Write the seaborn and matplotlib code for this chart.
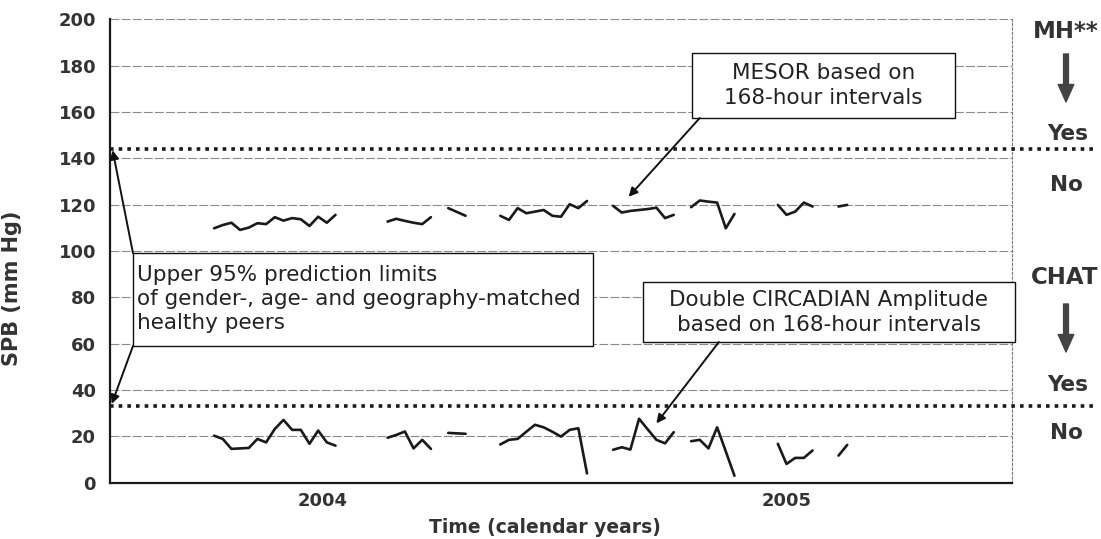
import numpy as np
import pandas as pd
import matplotlib
matplotlib.use("Agg")
import matplotlib.pyplot as plt
import matplotlib.patches as mpatches
import seaborn as sns

# ---------------- data (weeks since start of 2004) ----------------
seg_weeks = [
    list(range(12, 27)),
    list(range(32, 38)),
    [39, 41],
    list(range(45, 56)),
    list(range(58, 66)),
    list(range(67, 73)),
    list(range(77, 82)),
    [84, 85],
]
mesor_values = [
    [109.8, 111.2, 112.2, 109.1, 110.1, 112.0, 111.6, 114.6, 113.1, 114.2, 113.7, 110.8, 114.8, 112.2, 115.6],
    [112.7, 113.9, 113.0, 112.2, 111.6, 114.6],
    [118.5, 115.2],
    [115.2, 113.4, 118.5, 116.3, 117.0, 117.7, 115.2, 114.8, 120.2, 118.5, 121.6],
    [119.5, 116.6, 117.3, 117.7, 118.1, 118.7, 114.2, 115.6],
    [118.9, 121.8, 121.3, 120.9, 109.8, 116.0],
    [119.9, 115.6, 117.0, 120.9, 119.2],
    [119.2, 119.9],
]
chat_values = [
    [20.3, 18.9, 14.6, 14.8, 15.0, 18.9, 17.4, 23.2, 27.1, 22.8, 22.8, 16.8, 22.5, 17.4, 16.0],
    [19.4, 20.6, 22.1, 14.8, 18.5, 14.6],
    [21.5, 21.1],
    [16.5, 18.5, 18.9, 22.0, 25.0, 23.9, 22.0, 19.9, 22.8, 23.5, 4.0],
    [14.2, 15.3, 14.3, 27.6, 23.0, 18.5, 17.0, 21.8],
    [17.9, 18.5, 14.8, 23.9, 13.5, 3.0],
    [16.8, 8.1, 10.7, 10.7, 13.9],
    [11.7, 16.3],
]
mesor_limit = 144
chat_limit = 33
year_ticks = [0, 52, 104]
year_label_pos = [24.5, 78]
year_labels = ["2004", "2005"]
y_ticks = list(range(0, 201, 20))

rows = []
for i, (w, m, c) in enumerate(zip(seg_weeks, mesor_values, chat_values)):
    for wk, mv, cv in zip(w, m, c):
        rows.append({"week": wk, "value": mv, "series": "MESOR", "seg": i})
        rows.append({"week": wk, "value": cv, "series": "CHAT", "seg": i})
df = pd.DataFrame(rows)

# ---------------- figure ----------------
sns.set_theme(style="white")
plt.rcParams["font.family"] = ["DejaVu Sans"]

W, H = 1101, 539
fig = plt.figure(figsize=(W / 100, H / 100), dpi=100)
ax = fig.add_axes([110 / W, 1 - 482.7 / H, 902 / W, (482.7 - 19.3) / H])

def fp(x, y):
    return (x / W, 1 - y / H)

for s in ["MESOR", "CHAT"]:
    sns.lineplot(data=df[df["series"] == s], x="week", y="value", units="seg",
                 estimator=None, color="#1a1a1a", lw=1.9, ax=ax, legend=False, zorder=3)

ax.set_xlim(0, 104)
ax.set_ylim(0, 200)
ax.set_yticks(y_ticks)
ax.set_yticklabels([str(v) for v in y_ticks], fontsize=13, fontweight="bold", color="#333333")
ax.set_xticks(year_ticks)
ax.set_xticklabels(["", "", ""])
ax.set_xticks(year_label_pos, minor=True)
ax.set_xticklabels(year_labels, minor=True, fontsize=13, fontweight="bold", color="#333333")
ax.tick_params(axis="x", which="minor", length=0, pad=7)
ax.tick_params(axis="x", which="major", length=5, width=1.2, direction="out", color="k")
ax.tick_params(axis="y", length=4, width=1, direction="out", color="k", pad=6)

ax.yaxis.grid(True, color="#8a8a8a", lw=0.8, linestyle=(0, (8, 2)))
ax.set_axisbelow(True)
for side in ["left", "bottom"]:
    ax.spines[side].set_color("k")
    ax.spines[side].set_linewidth(1.6)
ax.spines["top"].set_visible(False)
ax.spines["right"].set_color("#777777")
ax.spines["right"].set_linewidth(0.8)
ax.spines["right"].set_linestyle((0, (2, 2)))

ax.set_xlabel("Time (calendar years)", fontsize=13.5, fontweight="bold", color="#333333")
ax.set_ylabel("SPB (mm Hg)", fontsize=15, fontweight="bold", color="#333333")
ax.yaxis.set_label_coords(-0.098, 0.42)
ax.xaxis.set_label_coords(0.482, -0.076)

# threshold dotted lines (extend beyond the axes)
for lim in [mesor_limit, chat_limit]:
    ax.plot([0, 113.8], [lim, lim], color="k", lw=2.6, linestyle=(0, (1, 1.4)),
            clip_on=False, zorder=4, solid_capstyle="butt", dash_capstyle="butt")

# ---------------- annotation boxes ----------------
def box(x0, x1, y0, y1):
    r = mpatches.Rectangle((x0, y0), x1 - x0, y1 - y0, facecolor="white", edgecolor="#111111",
                           lw=1.0, zorder=5, clip_on=False)
    ax.add_patch(r)

arrow_kw = dict(arrowstyle="-|>", color="#111111", lw=1.4, mutation_scale=13, shrinkA=0, shrinkB=0)

# MESOR box
box(67.1, 97.4, 157.4, 185.5)
ax.text(82.25, 171.4, "MESOR based on\n168-hour intervals", ha="center", va="center",
        fontsize=15.5, color="#222222", zorder=6, linespacing=1.3)
ax.annotate("", xy=(59.8, 123.4), xytext=(68.0, 157.4), arrowprops=arrow_kw, zorder=6)

# Upper 95% box
box(2.65, 55.7, 59.0, 99.1)
ax.text(3.1, 79.3, "Upper 95% prediction limits\nof gender-, age- and geography-matched\nhealthy peers",
        ha="left", va="center", fontsize=15.5, color="#222222", zorder=6, linespacing=1.25)
ax.annotate("", xy=(0.3, 143.5), xytext=(2.65, 99.1), arrowprops=arrow_kw, zorder=6, annotation_clip=False)
ax.annotate("", xy=(0.2, 34.0), xytext=(2.65, 59.0), arrowprops=arrow_kw, zorder=6, annotation_clip=False)

# Double CIRCADIAN box
box(61.5, 104.3, 60.7, 86.6)
ax.text(82.9, 73.5, "Double CIRCADIAN Amplitude\nbased on 168-hour intervals", ha="center", va="center",
        fontsize=15.5, color="#222222", zorder=6, linespacing=1.3)
ax.annotate("", xy=(63.0, 25.6), xytext=(70.2, 60.7), arrowprops=arrow_kw, zorder=6)

# ---------------- right-hand labels ----------------
rt = dict(ha="center", va="center", fontweight="bold", color="#333333")
fig.text(*fp(1066, 31), "MH**", fontsize=16.5, **rt)
fig.text(*fp(1068, 134), "Yes", fontsize=15.5, **rt)
fig.text(*fp(1066, 185), "No", fontsize=15.5, **rt)
fig.text(*fp(1065, 277), "CHAT", fontsize=16.5, **rt)
fig.text(*fp(1068, 385), "Yes", fontsize=15.5, **rt)
fig.text(*fp(1066, 433), "No", fontsize=15.5, **rt)

down_kw = dict(arrowstyle="simple,head_width=0.8,head_length=0.9,tail_width=0.25",
               color="#444444", shrinkA=0, shrinkB=0, mutation_scale=14)
for y0, y1 in [(54, 102), (304, 352)]:
    ax.annotate("", xy=fp(1066, y1), xytext=fp(1066, y0), xycoords="figure fraction",
                textcoords="figure fraction", arrowprops=down_kw, annotation_clip=False)

fig.savefig("out.png", dpi=100)
